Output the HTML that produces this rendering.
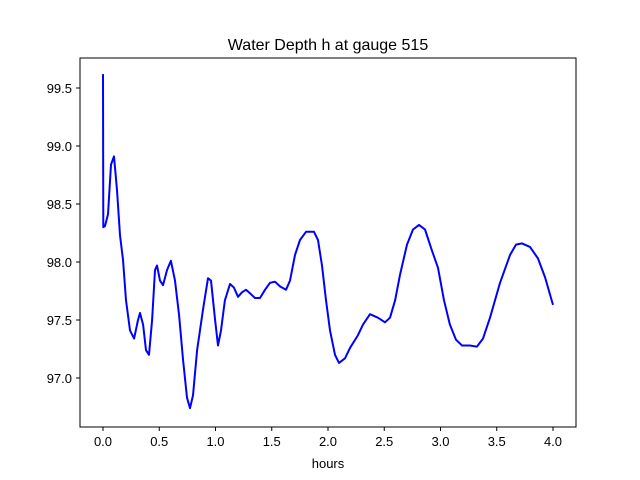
<!DOCTYPE html>
<html><head><meta charset="utf-8"><style>
body{margin:0;background:#fff;}
svg{display:block;font-family:"Liberation Sans","DejaVu Sans",sans-serif;}
</style></head><body>
<svg id="chart" width="640" height="480">
<rect x="0" y="0" width="640" height="480" fill="#fff"/>
<text x="328" y="50" font-size="16" text-anchor="middle">Water Depth h at gauge 515</text>
<text x="328" y="468" font-size="13" text-anchor="middle">hours</text>
<g id="ticks"></g>
<path id="line" fill="none" stroke="#0000ff" stroke-width="2" stroke-linejoin="round"/>
<rect x="80" y="58" width="496" height="369" fill="none" stroke="#000" stroke-width="1"/>
</svg>
<script>
const hours=[0,0.003,0.018,0.044,0.071,0.098,0.124,0.151,0.178,0.204,0.24,0.276,0.311,0.329,0.356,0.382,0.409,0.436,0.462,0.48,0.507,0.533,0.569,0.604,0.64,0.676,0.711,0.747,0.773,0.8,0.836,0.889,0.933,0.96,0.996,1.022,1.049,1.084,1.129,1.164,1.2,1.236,1.271,1.307,1.351,1.396,1.44,1.484,1.529,1.573,1.627,1.662,1.707,1.751,1.804,1.876,1.911,1.947,1.982,2.018,2.062,2.098,2.151,2.196,2.267,2.311,2.373,2.444,2.507,2.551,2.596,2.64,2.702,2.756,2.809,2.862,2.924,2.978,3.031,3.084,3.138,3.191,3.262,3.324,3.378,3.44,3.529,3.618,3.671,3.724,3.796,3.867,3.929,4.0];
const depths=[99.62,98.30,98.31,98.41,98.84,98.91,98.62,98.23,98.02,97.67,97.41,97.34,97.50,97.56,97.46,97.24,97.20,97.50,97.93,97.97,97.84,97.80,97.93,98.01,97.84,97.54,97.16,96.83,96.74,96.85,97.24,97.59,97.86,97.84,97.50,97.28,97.41,97.67,97.81,97.78,97.70,97.74,97.76,97.73,97.69,97.69,97.76,97.82,97.83,97.79,97.76,97.84,98.06,98.19,98.26,98.26,98.19,97.97,97.67,97.41,97.20,97.13,97.17,97.26,97.37,97.46,97.55,97.52,97.48,97.52,97.67,97.89,98.15,98.28,98.32,98.28,98.10,97.95,97.67,97.46,97.33,97.28,97.28,97.27,97.34,97.52,97.82,98.06,98.15,98.16,98.13,98.03,97.87,97.63];
const xTicks=[0.0,0.5,1.0,1.5,2.0,2.5,3.0,3.5,4.0];
const yTicks=[97.0,97.5,98.0,98.5,99.0,99.5];
const X=t=>103+t*112.5;
const Y=h=>88+(99.5-h)*116;
const NS="http://www.w3.org/2000/svg";
const g=document.getElementById('ticks');
xTicks.forEach(t=>{
  const l=document.createElementNS(NS,'line');
  l.setAttribute('x1',X(t));l.setAttribute('x2',X(t));l.setAttribute('y1',427);l.setAttribute('y2',431);l.setAttribute('stroke','#000');
  
  
  g.appendChild(l);
  const tx=document.createElementNS(NS,'text');
  tx.setAttribute('x',X(t));tx.setAttribute('y',446);tx.setAttribute('font-size','13');tx.setAttribute('text-anchor','middle');
  tx.textContent=t.toFixed(1);
  
  
  g.appendChild(tx);
});
yTicks.forEach(h=>{
  const l=document.createElementNS(NS,'line');
  l.setAttribute('x1',76);l.setAttribute('x2',80);l.setAttribute('y1',Y(h));l.setAttribute('y2',Y(h));l.setAttribute('stroke','#000');
  
  
  g.appendChild(l);
  const tx=document.createElementNS(NS,'text');
  tx.setAttribute('x',72);tx.setAttribute('y',Y(h)+5);tx.setAttribute('font-size','13');tx.setAttribute('text-anchor','end');
  tx.textContent=h.toFixed(1);
  
  
  g.appendChild(tx);
});
document.getElementById('line').setAttribute('d',hours.map((t,i)=>(i?'L':'M')+X(t).toFixed(1)+','+Y(depths[i]).toFixed(1)).join(''));
</script>
</body></html>
